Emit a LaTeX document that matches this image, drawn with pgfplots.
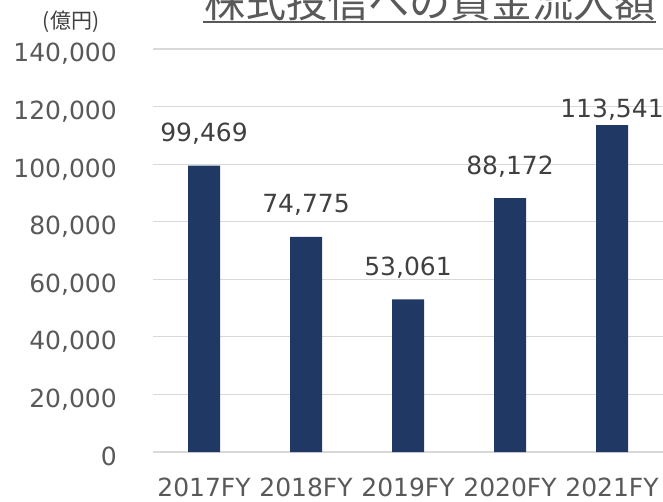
\documentclass[border=0pt]{standalone}
\usepackage{fontspec}
\setmainfont{DejaVu Sans}
\newfontfamily\cjk{Noto Sans CJK JP}
\usepackage{pgfplots}
\pgfplotsset{compat=1.18}
\definecolor{barblue}{RGB}{31,56,100}
\definecolor{tickgray}{RGB}{89,89,89}
\definecolor{labgray}{RGB}{64,64,64}
\definecolor{gridgray}{RGB}{217,217,217}
\begin{document}
\begin{tikzpicture}
\path[use as bounding box] (0,0) rectangle (663pt,501pt);
\begin{axis}[
  at={(153pt,49pt)}, anchor=south west,
  scale only axis, width=510pt, height=403pt,
  ybar, bar width=32pt,
  xmin=-0.5, xmax=4.5, ymin=0, ymax=140000,
  ytick={0,20000,40000,60000,80000,100000,120000,140000},
  xtick={0,1,2,3,4},
  xticklabels={2017FY,2018FY,2019FY,2020FY,2021FY},
  scaled y ticks=false,
  /pgf/number format/.cd, fixed, 1000 sep={,}, assume math mode=true, /pgfplots/.cd,
  major tick length=0pt,
  ymajorgrids, major grid style={draw=gridgray, line width=1.2pt},
  axis x line*=bottom, axis y line*=left,
  x axis line style={draw=gridgray, line width=1.8pt, -},
  y axis line style={draw=none},
  ticklabel style={font=\fontsize{25}{25}\selectfont, text=tickgray, inner sep=0pt},
  yticklabel style={anchor=base east, xshift=-36pt, yshift=-13pt},
  xticklabel style={anchor=base, yshift=-44pt},
  clip=false,
]
\addplot[fill=barblue, draw=none,
  nodes near coords,
  visualization depends on={\thisrow{dy} \as \dy},
  every node near coord/.append style={font=\fontsize{25}{25}\selectfont, text=labgray, anchor=base, inner sep=0pt, yshift=\dy pt},
] table {
x y dy
0 99469 24
1 74775 24
2 53061 24
3 88172 24
4 113541 8
};
\end{axis}
\node[anchor=base, inner sep=0pt, text=tickgray, font=\cjk\fontsize{41}{41}\selectfont] at (429.5pt,483pt) {株式投信への資金流入額};
\draw[tickgray, line width=2pt] (203pt,478.5pt) -- (656pt,478.5pt);
\node[inner sep=0pt, text=labgray, font=\cjk\fontsize{21}{21}\selectfont] at (71pt,479pt) {(億円)};
\end{tikzpicture}
\end{document}
